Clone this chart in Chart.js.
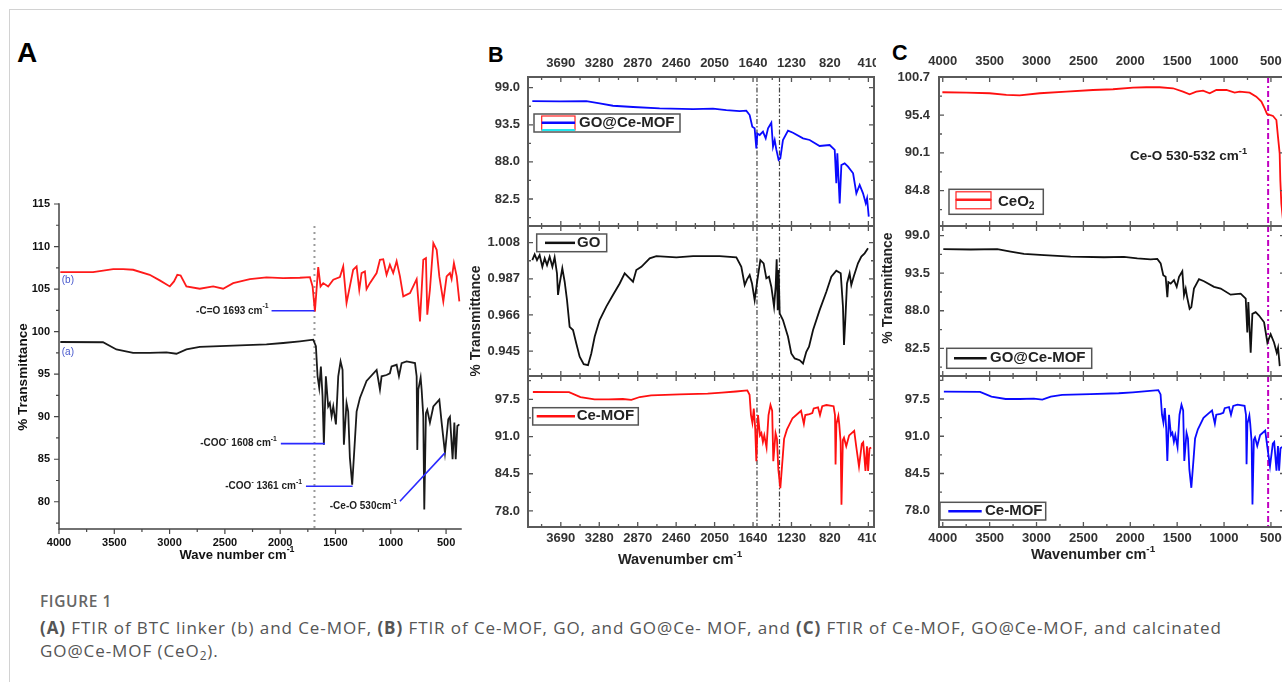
<!DOCTYPE html>
<html><head><meta charset="utf-8">
<script src="https://cdn.jsdelivr.net/npm/chart.js@4.4.1/dist/chart.umd.min.js"></script>
<style>
html,body{margin:0;padding:0;background:#fff;}
body{width:1282px;height:682px;overflow:hidden;position:relative;font-family:"Liberation Sans",Arial,sans-serif;}
.frame{position:absolute;left:9px;top:9px;width:1400px;height:800px;border-left:1px solid #d2d2d2;border-top:1px solid #d2d2d2;}
canvas{position:absolute;}
.plab{position:absolute;font-weight:bold;color:#000;line-height:1;font-family:"Liberation Sans",Arial,sans-serif;}
.cap{position:absolute;left:40px;font-family:"Open Sans","Noto Sans",sans-serif;color:#555;white-space:nowrap;}
.cap sub{font-size:70%;line-height:0;vertical-align:-0.25em;}
</style></head><body>
<div class="frame"></div>
<div class="plab" style="left:17px;top:39px;font-size:28px">A</div>
<div class="plab" style="left:488px;top:45px;font-size:21.5px">B</div>
<div class="plab" style="left:892px;top:43px;font-size:21.5px">C</div>
<canvas id="cA" width="480" height="380" style="left:0;top:190px"></canvas>
<canvas id="cB1" width="414" height="186" style="left:462px;top:40px"></canvas>
<canvas id="cB2" width="414" height="150" style="left:462px;top:226px"></canvas>
<canvas id="cB3" width="414" height="194" style="left:462px;top:376px"></canvas>
<canvas id="cC1" width="430" height="186" style="left:873px;top:40px"></canvas>
<canvas id="cC2" width="430" height="150" style="left:873px;top:226px"></canvas>
<canvas id="cC3" width="430" height="194" style="left:873px;top:376px"></canvas>
<div class="cap" style="top:591px;font-size:15.5px;line-height:20px;letter-spacing:0.6px;color:#666;font-weight:600">FIGURE 1</div>
<div class="cap" style="top:616px;font-size:17px;line-height:23px;letter-spacing:0.92px"><b>(A)</b> FTIR of BTC linker (b) and Ce-MOF, <b>(B)</b> FTIR of Ce-MOF, GO, and GO@Ce- MOF, and <b>(C)</b> FTIR of Ce-MOF, GO@Ce-MOF, and calcinated<br>GO@Ce-MOF (CeO<sub>2</sub>).</div>
<script>
// ---------------- data (wavenumber cm-1, transmittance) ----------------
const ceMof = [[3988,98.78],[3602,98.75],[3481,97.9],[3330,97.5],[3180,97.5],[3029,97.55],[2938,97.4],[2848,97.9],[2727,98.2],[2425,98.35],[2124,98.5],[1973,98.66],[1822,98.86],[1701,99.05],[1677,98.3],[1662,94.75],[1647,93.4],[1632,95.9],[1617,92.4],[1605,86.7],[1587,94.75],[1566,91.2],[1551,91.6],[1535,90.05],[1520,91.2],[1496,89.1],[1475,94.75],[1454,96.5],[1436,95.5],[1424,86.7],[1400,91.6],[1385,90.6],[1370,85.2],[1349,82.0],[1324,87.3],[1309,90.6],[1279,92.2],[1219,94.2],[1128,95.5],[1098,93.2],[1083,94.75],[1038,94.9],[1008,95.1],[993,95.9],[947,96.1],[926,94.75],[902,96.3],[857,96.5],[781,96.3],[766,94.75],[760,86.1],[751,93.2],[730,94.6],[721,93.2],[706,90.05],[697,79.1],[682,90.4],[670,90.8],[646,89.3],[615,91.2],[561,92.0],[540,89.3],[510,85.75],[480,89.7],[465,90.0],[441,85.0],[425,89.3],[413,85.0],[398,88.9],[380,89.1]];
const btcLinker = [[3988,107.0],[3692,107.0],[3510,107.35],[3420,107.35],[3330,107.27],[3180,106.68],[3089,106.02],[2998,105.31],[2960,105.9],[2930,106.68],[2900,106.6],[2848,105.31],[2727,105.04],[2606,105.31],[2516,105.04],[2425,105.7],[2274,106.17],[2124,106.37],[1973,106.29],[1822,106.33],[1731,106.41],[1707,105.31],[1686,102.38],[1656,107.58],[1635,105.31],[1611,105.7],[1566,105.31],[1520,106.1],[1460,106.41],[1430,107.66],[1400,103.36],[1370,105.31],[1340,107.27],[1309,107.66],[1285,104.92],[1264,106.88],[1234,107.07],[1219,105.0],[1189,105.7],[1128,106.88],[1098,108.44],[1068,108.51],[1038,106.68],[1008,107.86],[978,106.88],[947,108.28],[917,106.49],[887,104.14],[826,104.53],[766,106.17],[736,101.2],[706,108.44],[682,108.64],[670,101.99],[646,104.92],[615,110.4],[585,109.62],[561,106.49],[525,103.55],[495,106.49],[465,106.88],[450,106.17],[429,108.05],[404,106.49],[380,103.55]];
const goCeMof = [[3994,97.02],[3702,96.98],[3418,97.02],[3276,96.68],[3134,96.33],[2920,96.14],[2636,95.94],[2280,95.84],[2067,95.89],[1925,95.69],[1783,95.54],[1712,95.59],[1676,94.95],[1648,93.22],[1623,92.98],[1605,90.0],[1594,92.2],[1569,91.99],[1534,92.48],[1505,91.5],[1480,92.98],[1445,93.8],[1427,90.26],[1409,91.25],[1392,89.86],[1367,88.28],[1349,88.53],[1321,91.25],[1267,92.63],[1214,92.33],[1107,91.5],[1036,91.25],[930,90.36],[823,90.51],[769,89.77],[752,84.83],[741,89.28],[716,81.86],[698,87.54],[663,87.79],[627,87.3],[573,86.31],[538,83.35],[503,84.58],[467,83.35],[438,81.86],[424,82.6],[406,79.89]];
const go = [[3994,0.9979],[3969,1.0012],[3944,0.9979],[3916,1.0008],[3887,0.9940],[3862,0.9989],[3837,0.9950],[3809,0.9999],[3780,0.9940],[3756,0.9995],[3731,0.9902],[3720,0.9776],[3702,0.9843],[3674,0.9931],[3649,0.9853],[3624,0.9746],[3596,0.9591],[3560,0.9572],[3525,0.9494],[3489,0.9417],[3446,0.9374],[3400,0.9368],[3365,0.9436],[3329,0.9533],[3276,0.9630],[3205,0.9708],[3134,0.9776],[3062,0.9843],[3009,0.9902],[2956,0.9873],[2920,0.9853],[2885,0.9921],[2831,0.9940],[2742,0.9989],[2671,1.0002],[2458,0.9995],[2280,1.0002],[1996,1.0002],[1818,0.9995],[1765,0.9940],[1729,0.9834],[1704,0.9867],[1676,0.9892],[1651,0.9843],[1623,0.9746],[1594,0.9863],[1562,0.9979],[1527,0.9960],[1498,0.9873],[1470,0.9882],[1445,0.9824],[1416,0.9708],[1399,0.9824],[1388,0.9983],[1377,0.9688],[1367,0.9921],[1356,0.9669],[1321,0.9630],[1267,0.9533],[1232,0.9436],[1196,0.9407],[1143,0.9397],[1107,0.9378],[1072,0.9446],[1043,0.9475],[1000,0.9572],[930,0.9688],[858,0.9795],[805,0.9882],[752,0.9917],[705,0.9902],[681,0.9708],[670,0.9485],[656,0.9630],[638,0.9843],[610,0.9902],[592,0.9834],[567,0.9882],[521,0.9960],[485,0.9999],[450,1.0018],[414,1.0047]];
const ceo2 = [[4004,98.6],[3748,98.55],[3500,98.46],[3322,98.22],[3180,98.17],[2966,98.46],[2682,98.69],[2398,98.92],[2184,99.02],[1971,99.25],[1829,99.3],[1687,99.3],[1544,99.16],[1438,98.69],[1367,98.32],[1296,98.69],[1224,98.83],[1153,98.46],[1082,98.92],[975,98.92],[887,98.55],[833,98.69],[727,98.55],[656,97.99],[602,97.29],[567,96.35],[542,95.56],[513,95.42],[478,95.28],[442,94.71],[425,92.38],[407,90.04],[400,86.3],[389,83.0],[370,80.5]];

// ---------------- tick values ----------------
const aXTicks = [4000,3500,3000,2500,2000,1500,1000,500];
const aYTicks = [80,85,90,95,100,105,110,115];
const bXTicks = [3690,3280,2870,2460,2050,1640,1230,820,410];
const cXTicks = [4000,3500,3000,2500,2000,1500,1000,500];
const bTopYTicks = [82.5,88.0,93.5,99.0];
const bMidYTicks = [0.945,0.966,0.987,1.008];
const bBotYTicks = [78.0,84.5,91.0,97.5];
const cTopYTicks = [84.8,90.1,95.4,100.7];
const cMidYTicks = [82.5,88.0,93.5,99.0];
const cBotYTicks = [78.0,84.5,91.0,97.5];

// ---------------- drawing helpers ----------------
const FONT = '"Liberation Sans", Arial, sans-serif';
function fontStr(size, bold){ return (bold ? 'bold ' : '') + size + 'px ' + FONT; }
function drawParts(ctx, x, y, parts, size, bold, align, color){
  const ws = parts.map(p => { ctx.font = fontStr(p[1] ? size*0.68 : size, bold); return ctx.measureText(p[0]).width; });
  const total = ws.reduce((a,b)=>a+b,0);
  let cx = align === 'right' ? x - total : align === 'center' ? x - total/2 : x;
  ctx.fillStyle = color; ctx.textBaseline = 'middle'; ctx.textAlign = 'left';
  parts.forEach((p,i) => {
    ctx.font = fontStr(p[1] ? size*0.68 : size, bold);
    const dy = p[1] === 1 ? -size*0.42 : p[1] === 2 ? size*0.3 : 0;
    ctx.fillText(p[0], cx, y + dy);
    cx += ws[i];
  });
}
function minors(major, lo, hi){
  const v = major.slice().sort((a,b)=>a-b);
  const h = (v[1]-v[0])/2, out = [];
  for (let t = v[0]-h; t <= v[v.length-1]+h+1e-9; t += 2*h) if (t > lo && t < hi) out.push(t);
  return out;
}
const decor = {
  id: 'decor',
  beforeDatasetsDraw(chart, args, o){
    const {ctx, chartArea: a, scales: {x, y}} = chart;
    (o.vlines||[]).forEach(v => {
      const px = x.getPixelForValue(v.x);
      const top = v.yTop !== undefined ? y.getPixelForValue(v.yTop) : a.top;
      ctx.save(); ctx.strokeStyle = v.color; ctx.lineWidth = v.width; ctx.setLineDash(v.dash);
      ctx.beginPath(); ctx.moveTo(px, top); ctx.lineTo(px, a.bottom); ctx.stroke(); ctx.restore();
    });
  },
  afterDatasetsDraw(chart, args, o){
    const {ctx, chartArea: a, scales: {x, y}} = chart;
    ctx.save();
    (o.segments||[]).forEach(s => {
      ctx.strokeStyle = s.color; ctx.lineWidth = s.width;
      ctx.beginPath(); ctx.moveTo(x.getPixelForValue(s.x1), y.getPixelForValue(s.y1));
      ctx.lineTo(x.getPixelForValue(s.x2), y.getPixelForValue(s.y2)); ctx.stroke();
    });
    const fr = o.frame, d = fr.dir === 'in' ? 1 : -1;
    const xMaj = x.ticks.map(t=>t.value), yMaj = y.ticks.map(t=>t.value);
    const xMin = minors(xMaj, x.min, x.max), yMin = minors(yMaj, y.min, y.max);
    ctx.strokeStyle = fr.tickColor; ctx.lineWidth = fr.tickWidth;
    ctx.beginPath();
    const addX = (vals, len) => vals.forEach(v => { const p = x.getPixelForValue(v);
      if (fr.sides.includes('bottom')) { ctx.moveTo(p, a.bottom); ctx.lineTo(p, a.bottom - d*len); }
      if (fr.sides.includes('top')) { ctx.moveTo(p, a.top); ctx.lineTo(p, a.top + d*len); } });
    const addY = (vals, len) => vals.forEach(v => { const p = y.getPixelForValue(v);
      if (fr.sides.includes('left')) { ctx.moveTo(a.left, p); ctx.lineTo(a.left + d*len, p); }
      if (fr.sides.includes('right')) { ctx.moveTo(a.right, p); ctx.lineTo(a.right - d*len, p); } });
    addX(xMaj, fr.major); addX(xMin, fr.minor); addY(yMaj, fr.major); addY(yMin, fr.minor);
    ctx.stroke();
    ctx.strokeStyle = fr.color; ctx.lineWidth = fr.width; ctx.lineCap = 'square';
    ctx.beginPath();
    if (fr.sides.includes('left')) { ctx.moveTo(a.left, a.top); ctx.lineTo(a.left, a.bottom); }
    if (fr.sides.includes('bottom')) { ctx.moveTo(a.left, a.bottom); ctx.lineTo(a.right, a.bottom); }
    if (fr.sides.includes('right')) { ctx.moveTo(a.right, a.top); ctx.lineTo(a.right, a.bottom); }
    if (fr.sides.includes('top')) { ctx.moveTo(a.left, a.top); ctx.lineTo(a.right, a.top); }
    ctx.stroke();
    ctx.lineCap = 'butt';
    const lg = o.legend;
    if (lg) {
      const bx = a.left + lg.dx, by = a.top + lg.dy, cy = by + lg.h/2;
      ctx.fillStyle = '#fff'; ctx.fillRect(bx, by, lg.w, lg.h);
      ctx.strokeStyle = '#555'; ctx.lineWidth = 1.5; ctx.strokeRect(bx, by, lg.w, lg.h);
      if (lg.sym === 'line') {
        ctx.strokeStyle = lg.color; ctx.lineWidth = 2.5;
        ctx.beginPath(); ctx.moveTo(bx+lg.l1, cy); ctx.lineTo(bx+lg.l2, cy); ctx.stroke();
      } else if (lg.sym === 'bfill') {
        ctx.strokeStyle = '#ff2020'; ctx.lineWidth = 1.2; ctx.strokeRect(bx+7.7, by+2, 33.3, 14);
        ctx.strokeStyle = '#20e8f0'; ctx.lineWidth = 2; ctx.beginPath(); ctx.moveTo(bx+7.7, by+16); ctx.lineTo(bx+41, by+16); ctx.stroke();
        ctx.strokeStyle = '#0a0aff'; ctx.lineWidth = 2.5; ctx.beginPath(); ctx.moveTo(bx+7.7, by+8.7); ctx.lineTo(bx+41, by+8.7); ctx.stroke();
      } else if (lg.sym === 'cfill') {
        ctx.strokeStyle = '#ff2020'; ctx.lineWidth = 1.2;
        ctx.strokeRect(bx+7, by+2.5, 35, 8); ctx.strokeRect(bx+7, by+10.5, 35, 9);
        ctx.lineWidth = 2.4; ctx.beginPath(); ctx.moveTo(bx+7, by+10.5); ctx.lineTo(bx+42, by+10.5); ctx.stroke();
      }
      drawParts(ctx, bx + lg.tx, cy, lg.parts, lg.size, true, 'left', '#222');
    }
    (o.texts||[]).forEach(t => {
      const px = t.dx !== undefined ? a.left + t.dx : x.getPixelForValue(t.x) + (t.ox||0);
      const py = t.dy !== undefined ? a.top + t.dy : y.getPixelForValue(t.y) + (t.oy||0);
      if (t.rot) {
        ctx.save(); ctx.translate(px, py); ctx.rotate(-Math.PI/2);
        drawParts(ctx, 0, 0, t.parts, t.size, t.bold, 'center', t.color);
        ctx.restore();
      } else drawParts(ctx, px, py, t.parts, t.size, t.bold, t.align, t.color);
    });
    ctx.restore();
  }
};
function build(id, c){
  const zeroPad = s => { s.paddingLeft = 0; s.paddingRight = 0; s.paddingTop = 0; s.paddingBottom = 0; };
  const tickFont = {family: FONT, size: c.tickSize, weight: 'bold'};
  return new Chart(document.getElementById(id), {
    type: 'line',
    data: { datasets: c.series.map(sr => ({
      data: sr.data.map(p => ({x: p[0], y: p[1]})),
      borderColor: sr.color, borderWidth: sr.width, pointRadius: 0, tension: 0, fill: false })) },
    options: {
      responsive: false, animation: false, devicePixelRatio: 1, events: [],
      layout: { padding: c.pad, autoPadding: false },
      scales: {
        x: { type: 'linear', reverse: true, min: c.xRange[0], max: c.xRange[1],
          position: c.xPos || 'bottom', display: !!c.xPos,
          afterBuildTicks: s => { s.ticks = c.xTicks.map(v => ({value: v})); },
          afterFit: s => { if (c.xPos) s.height = c.xH; zeroPad(s); },
          ticks: { autoSkip: false, maxRotation: 0, minRotation: 0, padding: c.xPad || 0, color: c.tickColor, font: tickFont, callback: v => String(v) },
          grid: { display: false, drawTicks: false }, border: { display: false } },
        y: { type: 'linear', min: c.yRange[0], max: c.yRange[1], position: 'left',
          afterBuildTicks: s => { s.ticks = c.yTicks.map(v => ({value: v})); },
          afterFit: s => { s.width = c.yW; zeroPad(s); },
          ticks: { autoSkip: false, padding: c.yPad, color: c.tickColor, font: tickFont, callback: v => Number(v).toFixed(c.yDec) },
          grid: { display: false, drawTicks: false }, border: { display: false } }
      },
      plugins: { legend: { display: false }, tooltip: { enabled: false }, decor: c.decor }
    },
    plugins: [decor]
  });
}

const boxFrame = {sides:['left','right','top','bottom'], dir:'in', major:5, minor:3, color:'#5a5a5a', width:2, tickColor:'#555', tickWidth:1.3};
const bLines = [{x:1598,color:'#444',width:1.2,dash:[5,2,1.5,2]},{x:1358,color:'#444',width:1.2,dash:[5,2,1.5,2]}];
const cLines = [{x:530,color:'#c000c0',width:2,dash:[6,3,2,3]}];
const sup1 = ['-1',1];

// ---------------- Panel A ----------------
build('cA', {
  xRange:[365,4000], xTicks:aXTicks, xPos:'bottom', xH:41, xPad:7,
  yRange:[76.8,115], yTicks:aYTicks, yDec:0, yW:59, yPad:9,
  tickSize:11, tickColor:'#111', pad:{top:14,right:19,left:0,bottom:0},
  series:[{data:btcLinker,color:'#ff1a1a',width:1.8},{data:ceMof,color:'#1a1a1a',width:1.8}],
  decor:{
    frame:{sides:['left','bottom'], dir:'out', major:5, minor:3, color:'#444', width:1.5, tickColor:'#444', tickWidth:1.2},
    vlines:[{x:1690, yTop:112.4, color:'#9a9a9a', width:2, dash:[2,4]}],
    segments:[
      {x1:2078,y1:102.45,x2:1690,y2:102.45,color:'#2a2aff',width:1.6},
      {x1:1994,y1:86.84,x2:1595,y2:86.84,color:'#2a2aff',width:1.6},
      {x1:1767,y1:81.83,x2:1345,y2:81.83,color:'#2a2aff',width:1.6},
      {x1:917,y1:80.07,x2:510,y2:85.75,color:'#2a2aff',width:1.6}],
    texts:[
      {x:2078,y:102.45,ox:-3,parts:[['-C=O 1693 cm',0],sup1],size:10,bold:true,align:'right',color:'#222'},
      {x:1994,y:86.84,ox:-4,parts:[['-COO',0],['-',1],[' 1608 cm',0],sup1],size:10,bold:true,align:'right',color:'#222'},
      {x:1767,y:81.83,ox:-4,parts:[['-COO',0],['-',1],[' 1361 cm',0],sup1],size:10,bold:true,align:'right',color:'#222'},
      {x:917,y:80.07,ox:-3,oy:5,parts:[['-Ce-O 530cm',0],sup1],size:10,bold:true,align:'right',color:'#222'},
      {x:3975,y:106.0,parts:[['(b)',0]],size:10,bold:false,align:'left',color:'#4455cc'},
      {x:3975,y:97.56,parts:[['(a)',0]],size:10,bold:false,align:'left',color:'#4455cc'},
      {dx:178,dy:351,parts:[['Wave number cm',0],sup1],size:13,bold:true,align:'center',color:'#111'},
      {dx:-36,dy:173,rot:true,parts:[['% Transmittance',0]],size:13.5,bold:true,color:'#111'}]
  }
});

// ---------------- Panel B ----------------
build('cB1', {
  xRange:[350,4040], xTicks:bXTicks, xPos:'top', xH:37, xPad:6,
  yRange:[78.5,100.59], yTicks:bTopYTicks, yDec:1, yW:66, yPad:8,
  tickSize:13, tickColor:'#333', pad:{top:0,right:2,left:0,bottom:0},
  series:[{data:goCeMof,color:'#0a0aff',width:1.8}],
  decor:{frame:boxFrame, vlines:bLines,
    legend:{dx:6,dy:37,w:146,h:18,sym:'bfill',tx:45,parts:[['GO@Ce-MOF',0]],size:15}}
});
build('cB2', {
  xRange:[350,4040], xTicks:bXTicks,
  yRange:[0.9305,1.0177], yTicks:bMidYTicks, yDec:3, yW:66, yPad:8,
  tickSize:13, tickColor:'#333', pad:{top:0,right:2,left:0,bottom:0},
  series:[{data:go,color:'#111',width:1.8}],
  decor:{frame:boxFrame, vlines:bLines,
    legend:{dx:8.7,dy:8,w:70,h:17.7,sym:'line',l1:8.3,l2:38.3,color:'#111',tx:40.3,parts:[['GO',0]],size:15},
    texts:[{dx:-52,dy:95,rot:true,parts:[['% Transmittance',0]],size:14,bold:true,color:'#222'}]}
});
build('cB3', {
  xRange:[350,4040], xTicks:bXTicks, xPos:'bottom', xH:43, xPad:3.5,
  yRange:[75.2,101.57], yTicks:bBotYTicks, yDec:1, yW:66, yPad:8,
  tickSize:13, tickColor:'#333', pad:{top:0,right:2,left:0,bottom:0},
  series:[{data:ceMof,color:'#ff1010',width:1.8}],
  decor:{frame:boxFrame, vlines:bLines,
    legend:{dx:4.7,dy:31.7,w:105.6,h:17.3,sym:'line',l1:4,l2:42.3,color:'#ff1010',tx:44,parts:[['Ce-MOF',0]],size:15},
    texts:[{dx:152,dy:184,parts:[['Wavenumber cm',0],sup1],size:14.5,bold:true,align:'center',color:'#222'}]}
});

// ---------------- Panel C ----------------
build('cC1', {
  xRange:[350,4040], xTicks:cXTicks, xPos:'top', xH:37, xPad:7.5,
  yRange:[79.85,100.74], yTicks:cTopYTicks, yDec:1, yW:66, yPad:9,
  tickSize:13, tickColor:'#333', pad:{top:0,right:18,left:0,bottom:0},
  series:[{data:ceo2,color:'#ff1010',width:1.8}],
  decor:{frame:boxFrame, vlines:cLines,
    legend:{dx:10,dy:112.3,w:94.3,h:25,sym:'cfill',tx:49,parts:[['CeO',0],['2',2]],size:15},
    texts:[{dx:308,dy:79.7,parts:[['Ce-O 530-532 cm',0],sup1],size:13.5,bold:true,align:'right',color:'#222'}]}
});
build('cC2', {
  xRange:[350,4040], xTicks:cXTicks,
  yRange:[78.44,100.42], yTicks:cMidYTicks, yDec:1, yW:66, yPad:9,
  tickSize:13, tickColor:'#333', pad:{top:0,right:18,left:0,bottom:0},
  series:[{data:goCeMof,color:'#111',width:1.8}],
  decor:{frame:boxFrame, vlines:cLines,
    legend:{dx:7.7,dy:122.3,w:145,h:20,sym:'line',l1:7.3,l2:40,color:'#111',tx:43.3,parts:[['GO@Ce-MOF',0]],size:15},
    texts:[{dx:-51,dy:62,rot:true,parts:[['% Transmittance',0]],size:14,bold:true,color:'#222'}]}
});
build('cC3', {
  xRange:[350,4040], xTicks:cXTicks, xPos:'bottom', xH:43, xPad:3.5,
  yRange:[75.16,101.51], yTicks:cBotYTicks, yDec:1, yW:66, yPad:9,
  tickSize:13, tickColor:'#333', pad:{top:0,right:18,left:0,bottom:0},
  series:[{data:ceMof,color:'#0a0aff',width:1.8}],
  decor:{frame:boxFrame, vlines:cLines,
    legend:{dx:1,dy:126.3,w:105.7,h:17.7,sym:'line',l1:8.3,l2:41.7,color:'#0a0aff',tx:45,parts:[['Ce-MOF',0]],size:15},
    texts:[{dx:154,dy:179,parts:[['Wavenumber cm',0],sup1],size:14.5,bold:true,align:'center',color:'#222'}]}
});
</script>
</body></html>
